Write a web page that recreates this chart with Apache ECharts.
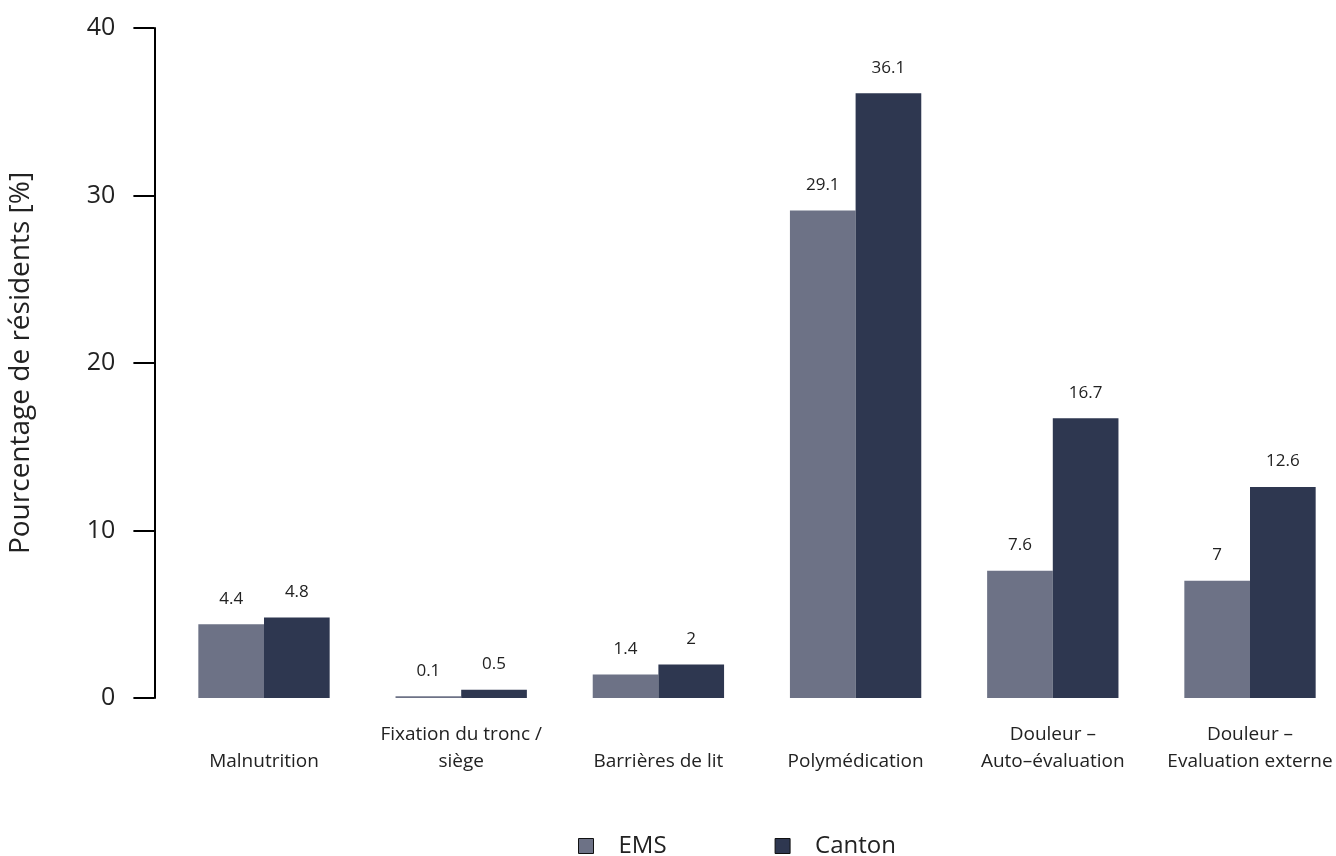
<!DOCTYPE html>
<html>
<head>
<meta charset="utf-8">
<script src="https://cdn.jsdelivr.net/npm/echarts@6/dist/echarts.min.js"></script>
<style>html,body{margin:0;padding:0;background:#fff;}#c{width:1336px;height:856px;}</style>
</head>
<body>
<div id="c"></div>
<script>
const categories = ["Malnutrition", "Fixation du tronc /\nsiège", "Barrières de lit", "Polymédication", "Douleur –\nAuto–évaluation", "Douleur –\nEvaluation externe"];
const emsValues = [4.4, 0.1, 1.4, 29.1, 7.6, 7];
const cantonValues = [4.8, 0.5, 2, 36.1, 16.7, 12.6];
const seriesNames = ["EMS", "Canton"];
const yTicks = [0, 10, 20, 30, 40];

const FONT = '"Open Sans", "Noto Sans", sans-serif';
const chart = echarts.init(document.getElementById('c'), null, {renderer: 'canvas'});
const labelCfg = {show: true, position: 'top', distance: 17, fontSize: 17, color: '#222', fontFamily: FONT};
chart.setOption({
  animation: false,
  backgroundColor: '#fff',
  textStyle: {fontFamily: FONT},
  grid: {left: 165.4, top: 28, width: 1183.2, bottom: 158, containLabel: false, outerBoundsMode: 'none'},
  legend: {
    data: seriesNames, top: 829, left: 573, itemWidth: 15, itemHeight: 15, itemGap: 108,
    icon: 'rect',
    itemStyle: {borderColor: '#111', borderWidth: 1},
    textStyle: {fontSize: 24, color: '#222', fontFamily: FONT, padding: [0, 0, 0, 20]}
  },
  xAxis: {
    type: 'category', data: categories,
    axisLine: {show: false}, axisTick: {show: false},
    axisLabel: {interval: 0, fontSize: 19, lineHeight: 27, color: '#222', margin: 77, verticalAlign: 'bottom', fontFamily: FONT}
  },
  yAxis: {
    type: 'value', min: 0, max: 40, interval: 10, offset: 11,
    name: 'Pourcentage de résidents [%]', nameLocation: 'middle', nameGap: 119,
    nameTextStyle: {fontSize: 28, color: '#222', fontFamily: FONT},
    axisLine: {show: true, lineStyle: {color: '#000', width: 2}},
    axisTick: {show: true, length: 21, lineStyle: {color: '#000', width: 2}},
    splitLine: {show: false},
    axisLabel: {fontSize: 25, color: '#222', margin: 39, fontFamily: FONT,
      formatter: v => yTicks.includes(v) ? String(v) : ''}
  },
  series: [
    {name: seriesNames[0], type: 'bar', data: emsValues, barGap: '0%', barCategoryGap: '33.4%',
      itemStyle: {color: '#6d7286'}, label: labelCfg},
    {name: seriesNames[1], type: 'bar', data: cantonValues, barGap: '0%', barCategoryGap: '33.4%',
      itemStyle: {color: '#2e3750'}, label: labelCfg}
  ]
});
</script>
</body>
</html>
